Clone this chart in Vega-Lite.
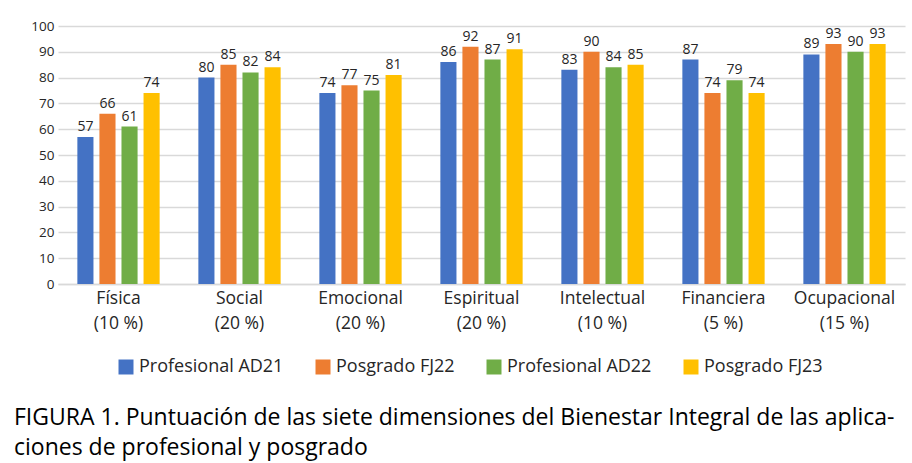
{
  "$schema": "https://vega.github.io/schema/vega-lite/v6.json",
  "width": 847,
  "height": 258,
  "autosize": {"type": "none"},
  "padding": {"left": 58, "top": 26, "right": 7, "bottom": 179},
  "background": "white",
  "title": {
    "text": ["FIGURA 1. Puntuación de las siete dimensiones del Bienestar Integral de las aplica-", "ciones de profesional y posgrado"],
    "orient": "bottom",
    "anchor": "start",
    "frame": "group",
    "dx": -44,
    "offset": 31,
    "font": "Open Sans",
    "fontSize": 23,
    "fontWeight": "normal",
    "color": "#000000",
    "lineHeight": 30
  },
  "data": {
    "values": [
      {"dim": "Física|(10 %)", "serie": "Profesional AD21", "valor": 57},
      {"dim": "Física|(10 %)", "serie": "Posgrado FJ22", "valor": 66},
      {"dim": "Física|(10 %)", "serie": "Profesional AD22", "valor": 61},
      {"dim": "Física|(10 %)", "serie": "Posgrado FJ23", "valor": 74},
      {"dim": "Social|(20 %)", "serie": "Profesional AD21", "valor": 80},
      {"dim": "Social|(20 %)", "serie": "Posgrado FJ22", "valor": 85},
      {"dim": "Social|(20 %)", "serie": "Profesional AD22", "valor": 82},
      {"dim": "Social|(20 %)", "serie": "Posgrado FJ23", "valor": 84},
      {"dim": "Emocional|(20 %)", "serie": "Profesional AD21", "valor": 74},
      {"dim": "Emocional|(20 %)", "serie": "Posgrado FJ22", "valor": 77},
      {"dim": "Emocional|(20 %)", "serie": "Profesional AD22", "valor": 75},
      {"dim": "Emocional|(20 %)", "serie": "Posgrado FJ23", "valor": 81},
      {"dim": "Espiritual|(20 %)", "serie": "Profesional AD21", "valor": 86},
      {"dim": "Espiritual|(20 %)", "serie": "Posgrado FJ22", "valor": 92},
      {"dim": "Espiritual|(20 %)", "serie": "Profesional AD22", "valor": 87},
      {"dim": "Espiritual|(20 %)", "serie": "Posgrado FJ23", "valor": 91},
      {"dim": "Intelectual|(10 %)", "serie": "Profesional AD21", "valor": 83},
      {"dim": "Intelectual|(10 %)", "serie": "Posgrado FJ22", "valor": 90},
      {"dim": "Intelectual|(10 %)", "serie": "Profesional AD22", "valor": 84},
      {"dim": "Intelectual|(10 %)", "serie": "Posgrado FJ23", "valor": 85},
      {"dim": "Financiera|(5 %)", "serie": "Profesional AD21", "valor": 87},
      {"dim": "Financiera|(5 %)", "serie": "Posgrado FJ22", "valor": 74},
      {"dim": "Financiera|(5 %)", "serie": "Profesional AD22", "valor": 79},
      {"dim": "Financiera|(5 %)", "serie": "Posgrado FJ23", "valor": 74},
      {"dim": "Ocupacional|(15 %)", "serie": "Profesional AD21", "valor": 89},
      {"dim": "Ocupacional|(15 %)", "serie": "Posgrado FJ22", "valor": 93},
      {"dim": "Ocupacional|(15 %)", "serie": "Profesional AD22", "valor": 90},
      {"dim": "Ocupacional|(15 %)", "serie": "Posgrado FJ23", "valor": 93}
    ]
  },
  "encoding": {
    "x": {
      "field": "dim",
      "type": "nominal",
      "sort": null,
      "scale": {"paddingInner": 0.32, "paddingOuter": 0.16},
      "axis": {
        "title": null,
        "labelAngle": 0,
        "labelExpr": "split(datum.label, '|')",
        "labelFont": "Open Sans",
        "labelFontSize": 17.5,
        "labelColor": "#262626",
        "labelLineHeight": 25,
        "labelPadding": 5,
        "ticks": false,
        "domainColor": "#D9D9D9",
        "domainWidth": 1.5
      }
    },
    "xOffset": {
      "field": "serie",
      "type": "nominal",
      "sort": ["Profesional AD21", "Posgrado FJ22", "Profesional AD22", "Posgrado FJ23"],
      "scale": {"paddingInner": 0.27, "paddingOuter": 0}
    },
    "y": {
      "field": "valor",
      "type": "quantitative",
      "scale": {"domain": [0, 100]},
      "axis": {
        "title": null,
        "values": [0, 10, 20, 30, 40, 50, 60, 70, 80, 90, 100],
        "labelOverlap": false,
        "domain": false,
        "ticks": false,
        "labelFont": "Open Sans",
        "labelFontSize": 13.5,
        "labelColor": "#262626",
        "labelPadding": 4,
        "gridColor": "#D9D9D9",
        "gridWidth": 1.5
      }
    }
  },
  "layer": [
    {
      "mark": {"type": "bar"},
      "encoding": {
        "color": {
          "field": "serie",
          "type": "nominal",
          "sort": ["Profesional AD21", "Posgrado FJ22", "Profesional AD22", "Posgrado FJ23"],
          "scale": {
            "domain": ["Profesional AD21", "Posgrado FJ22", "Profesional AD22", "Posgrado FJ23"],
            "range": ["#4472C4", "#ED7D31", "#70AD47", "#FFC000"]
          },
          "legend": {
            "title": null,
            "orient": "none",
            "legendX": 59,
            "legendY": 332,
            "padding": 0,
            "direction": "horizontal",
            "columns": 4,
            "symbolType": "square",
            "symbolSize": 225,
            "symbolStrokeWidth": 0,
            "symbolOpacity": 1,
            "labelOffset": 4,
            "labelFont": "Open Sans",
            "labelFontSize": 18,
            "labelColor": "#262626",
            "labelLimit": 300,
            "columnPadding": 30
          }
        }
      }
    },
    {
      "mark": {"type": "text", "baseline": "bottom", "dy": -3, "font": "Open Sans", "fontSize": 14, "color": "#262626"},
      "encoding": {
        "text": {"field": "valor", "type": "quantitative"}
      }
    }
  ],
  "config": {
    "view": {"stroke": null}
  }
}
